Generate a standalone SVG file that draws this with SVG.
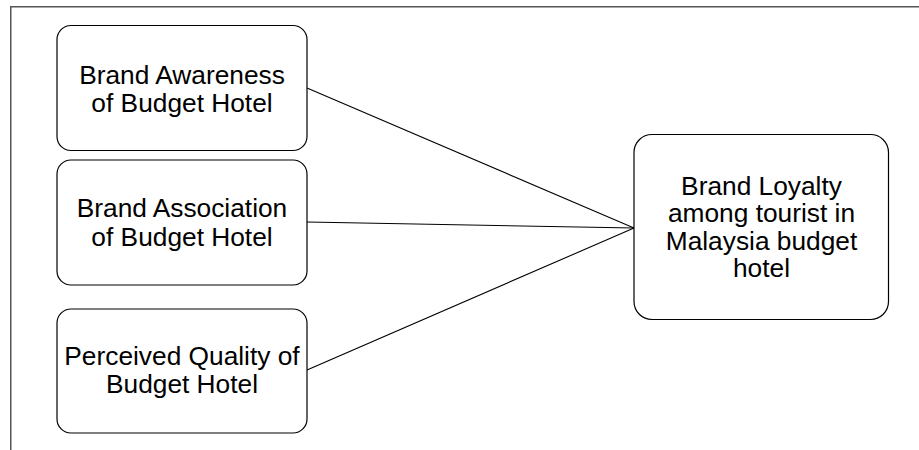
<svg xmlns="http://www.w3.org/2000/svg" width="919" height="450" viewBox="0 0 919 450">
<style>
.frame{fill:none;stroke:#555;stroke-width:1.5}
.box{fill:#fff;stroke:#000;stroke-width:1.2}
.lbl{font-family:"Liberation Sans",Arial,sans-serif;font-size:26.3px;fill:#000;text-anchor:middle}
.conn{fill:none;stroke:#000;stroke-width:1.1}
</style>
<rect width="919" height="450" fill="#fff"/>
<path class="frame" d="M10.75 450 V6.75 H919"/>
<g id="connectors">
<line class="conn" x1="307" y1="88" x2="634" y2="228"/>
<line class="conn" x1="307" y1="222" x2="634" y2="228"/>
<line class="conn" x1="307" y1="370" x2="634" y2="228"/>
</g>
<g id="n1">
<rect class="box" x="57" y="25.5" width="250" height="125" rx="14"/>
<text class="lbl" x="182" y="83.5">Brand Awareness</text>
<text class="lbl" x="182" y="111.5">of Budget Hotel</text>
</g>
<g id="n2">
<rect class="box" x="57" y="160" width="250" height="125" rx="14"/>
<text class="lbl" x="182" y="217">Brand Association</text>
<text class="lbl" x="182" y="245.5">of Budget Hotel</text>
</g>
<g id="n3">
<rect class="box" x="57" y="309" width="250" height="124" rx="14"/>
<text class="lbl" x="182" y="365"><tspan x="182">Perceived Quality of</tspan><tspan x="182" dy="27.5">Budget Hotel</tspan></text>
</g>
<g id="n4">
<rect class="box" x="634" y="134.5" width="254.5" height="185" rx="18"/>
<text class="lbl" x="761.5" y="194.5">Brand Loyalty</text>
<text class="lbl" x="761.5" y="222">among tourist in</text>
<text class="lbl" x="761.5" y="249.5">Malaysia budget</text>
<text class="lbl" x="761.5" y="277">hotel</text>
</g>
</svg>
